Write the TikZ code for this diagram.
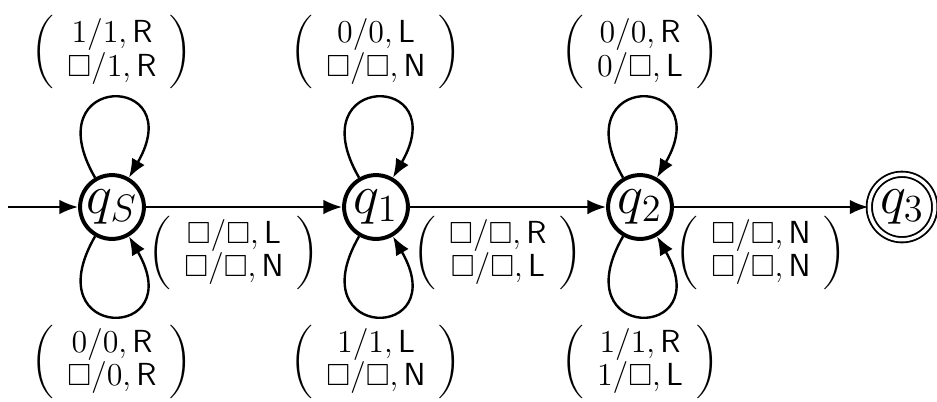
\documentclass[tikz,border=0pt]{standalone}
\usepackage{amssymb}
\usetikzlibrary{arrows.meta}
\newcommand\trlab[2]{$\biggl(\begin{array}{c}#1\\#2\end{array}\biggr)$}
\begin{document}
\begin{tikzpicture}[x=0.376pt,y=-0.376pt,
  >={Latex[length=7pt,width=5.5pt]},
  conn/.style={->,line width=0.9pt},
  state/.style={circle,draw,line width=1.5pt,minimum size=24pt,inner sep=0pt,font=\huge},
  accept/.style={circle,draw,double,line width=0.7pt,double distance=1.3pt,minimum size=24.6pt,inner sep=0pt,font=\huge},
  lab/.style={inner sep=3pt,font=\fontsize{11.5}{12}\selectfont},
  loopup/.style={out=120,in=60,min distance=46pt},
  loopdown/.style={out=-120,in=-60,min distance=46pt}]
\useasboundingbox (0,0) rectangle (937,401);

\node[state] (qs) at (112,207) {$q_S$};
\node[state] (q1) at (376,207) {$q_1$};
\node[state] (q2) at (640,207) {$q_2$};
\node[accept] (q3) at (902,207) {$q_3$};
\coordinate (start) at (8,207);

\draw[conn] (start) -- (qs);
\draw[conn] (qs) -- node[lab,below,xshift=-3.8pt] (e1) {\trlab{\square/\square,\mathsf{L}}{\square/\square,\mathsf{N}}} (q1);
\draw[conn] (q1) -- node[lab,below,xshift=-3.8pt] (e2) {\trlab{\square/\square,\mathsf{R}}{\square/\square,\mathsf{L}}} (q2);
\draw[conn] (q2) -- node[lab,below,xshift=-3.8pt] (e3) {\trlab{\square/\square,\mathsf{N}}{\square/\square,\mathsf{N}}} (q3);

\draw[conn] (qs) to[loopup] node[lab,above] (ls1) {\trlab{1/1,\mathsf{R}}{\square/1,\mathsf{R}}} (qs);
\draw[conn] (qs) to[loopdown] node[lab,below] (ls2) {\trlab{0/0,\mathsf{R}}{\square/0,\mathsf{R}}} (qs);
\draw[conn] (q1) to[loopup] node[lab,above] (l11) {\trlab{0/0,\mathsf{L}}{\square/\square,\mathsf{N}}} (q1);
\draw[conn] (q1) to[loopdown] node[lab,below] (l12) {\trlab{1/1,\mathsf{L}}{\square/\square,\mathsf{N}}} (q1);
\draw[conn] (q2) to[loopup] node[lab,above] (l21) {\trlab{0/0,\mathsf{R}}{0/\square,\mathsf{L}}} (q2);
\draw[conn] (q2) to[loopdown] node[lab,below] (l22) {\trlab{1/1,\mathsf{R}}{1/\square,\mathsf{L}}} (q2);
\end{tikzpicture}
\end{document}
